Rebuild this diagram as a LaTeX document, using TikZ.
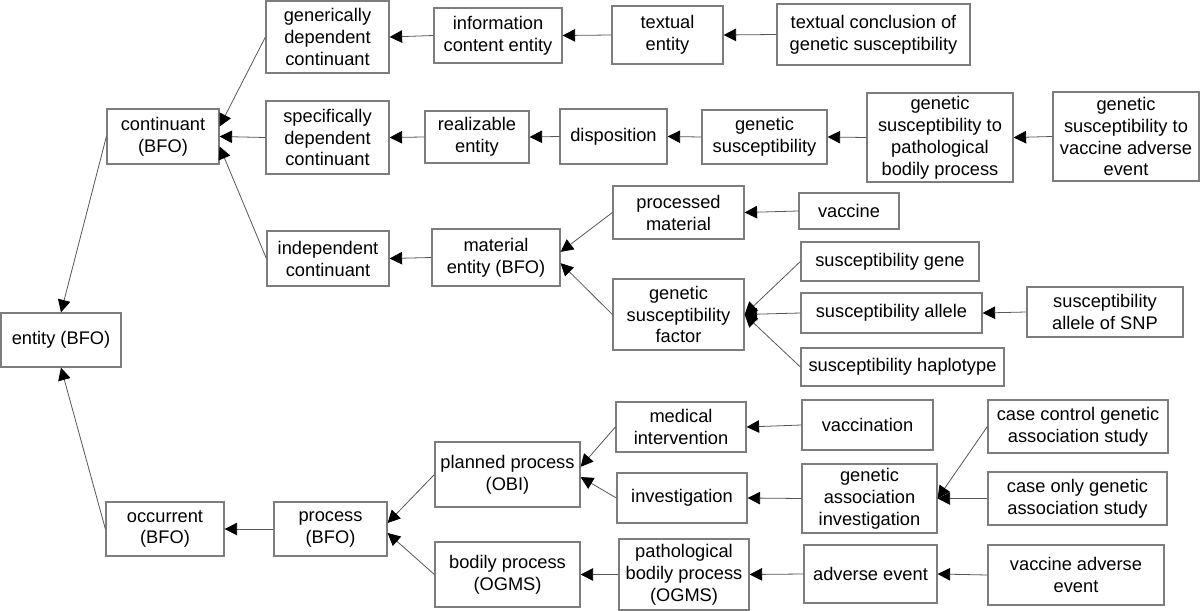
\documentclass[tikz,border=0pt]{standalone}
\usepackage{fontspec}
\setmainfont{Liberation Sans}
\usetikzlibrary{arrows.meta}
\definecolor{boxGray}{RGB}{125,125,125}
\definecolor{edgeGray}{RGB}{85,85,85}
\tikzset{
  cls/.style={draw=boxGray, line width=0.7pt, align=center, inner sep=1pt,
    font=\fontsize{10.4}{12.5}\selectfont},
  isa/.style={draw=edgeGray, line width=0.45pt,
    -{Triangle[length=0.25cm,width=0.25cm,color=black]}},
}
\begin{document}
\begin{tikzpicture}[x=0.02cm,y=-0.02cm]
   \newcommand{\classBox}[6]{
        \node[cls, minimum width={(#4-#2)*0.02cm}, minimum height={(#5-#3)*0.02cm}]
          (#1) at ({(#2+#4)/2},{(#3+#5)/2}) {#6};
    }
  \useasboundingbox (0,0) rectangle (1200,611);

  \classBox{ent}{1}{313}{121}{367}{entity (BFO)}
  \classBox{cont}{107}{109}{219}{164}{continuant\\(BFO)}
  \classBox{occ}{106}{502}{224}{556}{occurrent\\(BFO)}
  \classBox{gdc}{266}{1}{389}{73}{generically\\dependent\\continuant}
  \classBox{sdc}{266}{101}{389}{174}{specifically\\dependent\\continuant}
  \classBox{ic}{267}{231}{389}{286}{independent\\continuant}
  \classBox{ice}{434}{8}{562}{63}{information\\content entity}
  \classBox{te}{612}{6}{723}{64}{textual\\entity}
  \classBox{tc}{777}{4}{970}{65}{textual conclusion of\\genetic susceptibility}
  \classBox{re}{425}{111}{529}{163}{realizable\\entity}
  \classBox{disp}{560}{109}{667}{164}{disposition}
  \classBox{gs}{702}{110}{827}{164}{genetic\\susceptibility}
  \classBox{gspbp}{867}{93}{1013}{182}{genetic\\susceptibility to\\pathological\\bodily process}
  \classBox{gsvae}{1053}{92}{1199}{181}{genetic\\susceptibility to\\vaccine adverse\\event}
  \classBox{me}{432}{229}{560}{286}{material\\entity (BFO)}
  \classBox{pm}{613}{186}{744}{239}{processed\\material}
  \classBox{vac}{799}{193}{899}{229}{vaccine}
  \classBox{gsf}{613}{279}{744}{350}{genetic\\susceptibility\\factor}
  \classBox{sg}{801}{242}{979}{281}{susceptibility gene}
  \classBox{sa}{801}{293}{982}{333}{susceptibility allele}
  \classBox{snp}{1027}{287}{1183}{337}{susceptibility\\allele of SNP}
  \classBox{sh}{801}{348}{1004}{386}{susceptibility haplotype}
  \classBox{proc}{274}{502}{387}{556}{process\\(BFO)}
  \classBox{pp}{435}{442}{580}{507}{planned process\\(OBI)}
  \classBox{bp}{435}{542}{580}{607}{bodily process\\(OGMS)}
  \classBox{mi}{616}{402}{746}{452}{medical\\intervention}
  \classBox{inv}{617}{473}{747}{523}{investigation}
  \classBox{pbp}{619}{539}{749}{610}{pathological\\bodily process\\(OGMS)}
  \classBox{vacc}{802}{400}{933}{450}{vaccination}
  \classBox{gai}{802}{464}{937}{533}{genetic\\association\\investigation}
  \classBox{ae}{804}{545}{937}{603}{adverse event}
  \classBox{ccgas}{988}{400}{1168}{453}{case control genetic\\association study}
  \classBox{cogas}{988}{472}{1167}{525}{case only genetic\\association study}
  \classBox{vae}{988}{545}{1164}{605}{vaccine adverse\\event}

  \draw[isa] (cont.west) -- (ent.north);
  \draw[isa] (occ.west) -- (ent.south);
  \draw[isa] (gdc.west) -- (cont.10);
  \draw[isa] (sdc.west) -- (cont.east);
  \draw[isa] (ic.west) -- (cont.-10);
  \draw[isa] (ice.west) -- (gdc.east);
  \draw[isa] (te.west) -- (ice.east);
  \draw[isa] (tc.west) -- (te.east);
  \draw[isa] (re.west) -- (sdc.east);
  \draw[isa] (disp.west) -- (re.east);
  \draw[isa] (gs.west) -- (disp.east);
  \draw[isa] (gspbp.west) -- (gs.east);
  \draw[isa] (gsvae.west) -- (gspbp.east);
  \draw[isa] (me.west) -- (ic.east);
  \draw[isa] (pm.west) -- (me.5);
  \draw[isa] (gsf.west) -- (me.-5);
  \draw[isa] (vac.west) -- (pm.east);
  \draw[isa] (sg.west) -- (gsf.east);
  \draw[isa] (sa.west) -- (gsf.east);
  \draw[isa] (sh.west) -- (gsf.east);
  \draw[isa] (snp.west) -- (sa.east);
  \draw[isa] (proc.west) -- (occ.east);
  \draw[isa] (pp.west) -- (proc.6);
  \draw[isa] (bp.west) -- (proc.-4);
  \draw[isa] (mi.west) -- (pp.6);
  \draw[isa] (inv.west) -- (pp.-2);
  \draw[isa] (vacc.west) -- (mi.east);
  \draw[isa] (gai.west) -- (inv.east);
  \draw[isa] (ccgas.west) -- (gai.east);
  \draw[isa] (cogas.west) -- (gai.east);
  \draw[isa] (pbp.west) -- (bp.east);
  \draw[isa] (ae.west) -- (pbp.east);
  \draw[isa] (vae.west) -- (ae.east);

\end{tikzpicture}
\end{document}
